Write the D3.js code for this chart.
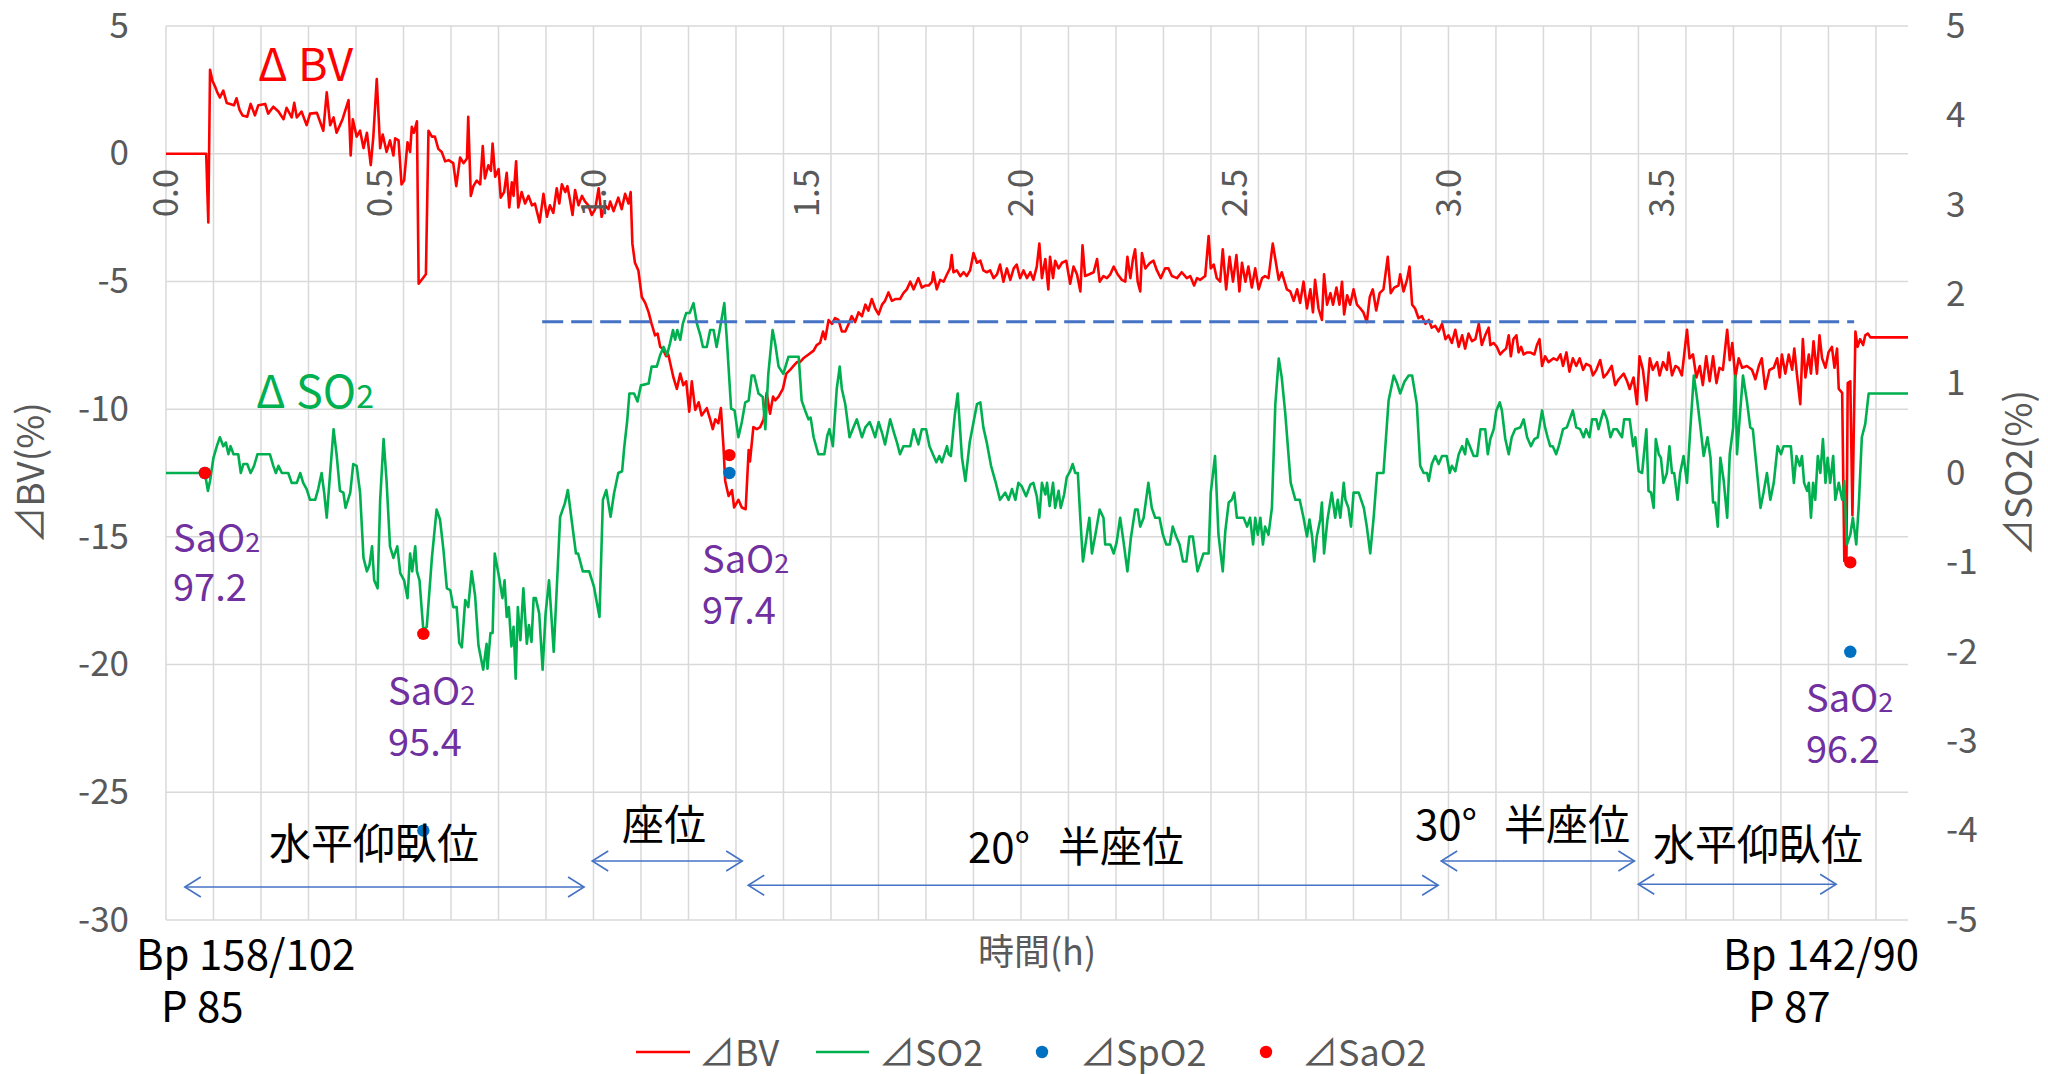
<!DOCTYPE html>
<html>
<head>
<meta charset="utf-8">
<script src="https://cdn.jsdelivr.net/npm/d3@7"></script>
<style>
  body { margin: 0; background: #fff; }
  svg { display: block; font-family: "Noto Sans CJK JP", "Noto Sans", sans-serif; }
</style>
</head>
<body>
<svg width="2048" height="1074"></svg>
<script>
// ΔBV (%), left axis : [time h, value]
var bvSeries = [
  [0,0],[0.094,0],[0.099,-2.69],[0.103,3.29],[0.109,2.84],[0.115,2.62],[0.120,2.40],[0.126,2.20],[0.134,2.47],[0.142,1.99],
  [0.150,1.95],[0.159,1.90],[0.165,2.17],[0.172,1.72],[0.179,1.50],[0.190,1.45],[0.198,1.95],[0.208,1.50],[0.216,1.90],[0.232,1.95],
  [0.239,1.57],[0.251,1.84],[0.263,1.65],[0.275,1.35],[0.282,1.80],[0.294,1.42],[0.300,1.99],[0.306,1.42],[0.317,1.65],[0.329,1.12],
  [0.337,1.57],[0.353,1.60],[0.360,1.27],[0.368,0.90],[0.376,2.40],[0.384,1.12],[0.392,1.42],[0.399,0.82],[0.407,1.12],[0.413,1.35],
  [0.427,2.10],[0.432,-0.07],[0.437,1.35],[0.446,0.67],[0.454,0.90],[0.462,0.22],[0.470,0.82],[0.479,-0.45],[0.485,0.67],[0.493,2.92],
  [0.501,0.22],[0.507,0.75],[0.516,0.07],[0.524,0.52],[0.532,-0.07],[0.536,0.60],[0.544,0.52],[0.551,-1.20],[0.557,-1.05],[0.565,0.45],
  [0.571,0.07],[0.575,1.05],[0.580,0.82],[0.587,1.27],[0.591,-5.09],[0.608,-4.72],[0.614,0.90],[0.622,0.67],[0.629,0.67],[0.637,0.19],
  [0.645,0.07],[0.653,-0.30],[0.661,-0.25],[0.672,-0.37],[0.679,-1.27],[0.688,-0.15],[0.696,-0.37],[0.704,-0.19],[0.707,1.45],[0.713,-1.65],
  [0.719,-1.27],[0.727,-1.05],[0.735,-1.20],[0.741,0.30],[0.746,-0.97],[0.754,-0.45],[0.760,-0.67],[0.764,0.40],[0.770,-0.90],[0.778,-0.60],
  [0.783,-1.72],[0.791,-1.50],[0.797,-0.75],[0.803,-2.10],[0.809,-1.12],[0.813,-1.65],[0.819,-0.30],[0.824,-2.10],[0.832,-1.50],[0.840,-1.95],
  [0.848,-1.65],[0.856,-2.02],[0.863,-1.95],[0.874,-2.69],[0.883,-1.57],[0.891,-2.47],[0.898,-2.02],[0.906,-2.32],[0.914,-1.35],[0.920,-1.95],
  [0.926,-1.20],[0.934,-1.50],[0.939,-1.27],[0.945,-1.80],[0.951,-2.40],[0.957,-1.42],[0.965,-2.02],[0.973,-1.65],[0.980,-1.87],[0.988,-2.02],
  [0.996,-2.40],[1.004,-2.17],[1.012,-1.35],[1.019,-2.47],[1.027,-2.02],[1.035,-2.17],[1.039,-1.87],[1.047,-2.25],[1.058,-1.72],[1.066,-2.17],
  [1.074,-1.57],[1.082,-1.95],[1.087,-1.50],[1.091,-3.52],[1.097,-4.27],[1.105,-4.57],[1.113,-5.61],[1.121,-5.84],[1.129,-6.21],[1.136,-6.66],
  [1.144,-7.11],[1.150,-7.04],[1.156,-7.56],[1.162,-7.63],[1.170,-7.93],[1.175,-7.86],[1.181,-8.31],[1.187,-8.76],[1.195,-9.21],[1.203,-8.61],
  [1.210,-9.06],[1.217,-8.91],[1.224,-10.10],[1.230,-8.91],[1.238,-10.03],[1.246,-9.73],[1.253,-10.25],[1.265,-9.96],[1.273,-10.40],[1.279,-10.78],
  [1.285,-10.40],[1.292,-10.55],[1.298,-9.96],[1.304,-11.45],[1.308,-12.80],[1.316,-13.40],[1.324,-13.17],[1.329,-13.85],[1.339,-13.55],[1.347,-13.85],
  [1.356,-13.92],[1.363,-11.60],[1.366,-12.05],[1.374,-10.70],[1.382,-10.78],[1.390,-10.70],[1.398,-10.40],[1.405,-9.36],[1.413,-10.18],[1.420,-9.51],
  [1.425,-9.66],[1.433,-9.51],[1.443,-9.21],[1.451,-8.61],[1.460,-8.46],[1.468,-8.31],[1.476,-8.16],[1.483,-8.16],[1.491,-8.01],[1.503,-7.86],
  [1.515,-7.71],[1.522,-7.49],[1.530,-7.41],[1.537,-6.96],[1.542,-7.26],[1.550,-6.51],[1.558,-6.66],[1.565,-6.44],[1.573,-6.51],[1.581,-6.96],
  [1.589,-6.96],[1.597,-6.66],[1.604,-6.36],[1.612,-6.59],[1.620,-6.21],[1.628,-6.36],[1.636,-5.91],[1.643,-6.14],[1.651,-5.69],[1.659,-6.06],
  [1.667,-6.29],[1.675,-5.91],[1.682,-5.76],[1.690,-5.43],[1.698,-5.76],[1.706,-5.69],[1.717,-5.69],[1.725,-5.46],[1.733,-5.31],[1.741,-5.01],
  [1.749,-5.31],[1.760,-4.87],[1.768,-5.24],[1.776,-5.16],[1.784,-5.16],[1.792,-5.01],[1.795,-4.64],[1.803,-5.31],[1.811,-4.94],[1.819,-5.01],
  [1.827,-4.72],[1.834,-4.49],[1.838,-3.97],[1.842,-4.64],[1.850,-4.57],[1.858,-4.79],[1.866,-4.64],[1.873,-4.79],[1.881,-4.57],[1.889,-3.89],
  [1.897,-4.27],[1.905,-4.19],[1.912,-4.57],[1.920,-4.64],[1.928,-4.57],[1.936,-4.87],[1.944,-4.72],[1.951,-4.34],[1.959,-5.01],[1.967,-4.49],
  [1.975,-4.94],[1.983,-4.49],[1.990,-4.34],[1.998,-4.87],[2.006,-4.57],[2.014,-4.87],[2.022,-4.64],[2.029,-4.94],[2.037,-4.42],[2.043,-3.52],
  [2.049,-4.87],[2.057,-4.12],[2.064,-5.31],[2.068,-4.04],[2.075,-4.87],[2.080,-4.19],[2.088,-4.49],[2.096,-4.27],[2.106,-4.19],[2.115,-5.09],
  [2.123,-4.42],[2.131,-4.72],[2.139,-5.39],[2.144,-3.59],[2.150,-4.79],[2.160,-4.72],[2.170,-4.64],[2.178,-4.12],[2.184,-5.01],[2.193,-4.79],
  [2.201,-4.87],[2.209,-4.72],[2.217,-4.42],[2.226,-4.72],[2.236,-4.94],[2.244,-5.01],[2.249,-4.04],[2.256,-4.87],[2.262,-4.12],[2.267,-3.74],
  [2.273,-5.01],[2.279,-5.39],[2.283,-3.89],[2.291,-4.49],[2.302,-4.27],[2.310,-4.19],[2.318,-4.57],[2.327,-4.87],[2.337,-4.49],[2.345,-4.49],
  [2.353,-4.79],[2.365,-4.87],[2.376,-4.64],[2.388,-4.87],[2.396,-4.79],[2.405,-5.16],[2.412,-4.87],[2.419,-4.94],[2.431,-4.79],[2.439,-3.22],
  [2.444,-4.49],[2.451,-4.34],[2.458,-4.87],[2.466,-5.01],[2.472,-3.74],[2.480,-5.31],[2.488,-4.04],[2.496,-5.01],[2.504,-3.97],[2.511,-5.39],
  [2.517,-4.27],[2.525,-5.01],[2.532,-4.42],[2.540,-5.24],[2.548,-4.49],[2.556,-5.31],[2.564,-4.87],[2.571,-4.79],[2.579,-4.87],[2.589,-3.52],
  [2.595,-4.12],[2.603,-4.94],[2.610,-4.64],[2.622,-5.31],[2.630,-5.39],[2.638,-5.76],[2.646,-5.31],[2.653,-5.84],[2.661,-5.01],[2.669,-6.06],
  [2.677,-5.31],[2.683,-6.21],[2.688,-4.94],[2.696,-6.06],[2.704,-6.51],[2.709,-4.72],[2.716,-5.91],[2.724,-5.46],[2.730,-5.91],[2.738,-5.24],
  [2.745,-5.91],[2.751,-5.01],[2.756,-6.29],[2.763,-5.54],[2.770,-5.91],[2.778,-5.31],[2.786,-5.91],[2.794,-6.06],[2.801,-6.21],[2.809,-6.59],
  [2.816,-5.61],[2.823,-5.31],[2.831,-6.14],[2.839,-5.46],[2.848,-5.31],[2.858,-4.04],[2.865,-5.46],[2.873,-5.24],[2.883,-5.16],[2.887,-4.72],
  [2.895,-5.39],[2.903,-4.94],[2.909,-4.42],[2.915,-5.91],[2.922,-6.06],[2.930,-6.44],[2.938,-6.36],[2.946,-6.66],[2.954,-6.51],[2.961,-6.81],
  [2.969,-6.74],[2.977,-6.96],[2.985,-6.66],[2.993,-7.26],[3.000,-7.11],[3.008,-7.41],[3.016,-6.89],[3.024,-7.56],[3.032,-7.11],[3.039,-7.63],
  [3.047,-7.04],[3.055,-7.34],[3.063,-7.26],[3.071,-6.66],[3.078,-7.49],[3.086,-7.11],[3.094,-6.81],[3.098,-7.49],[3.106,-7.41],[3.113,-7.56],
  [3.121,-7.86],[3.129,-7.71],[3.135,-7.63],[3.141,-7.11],[3.146,-7.93],[3.152,-7.26],[3.159,-7.11],[3.164,-7.78],[3.170,-7.56],[3.176,-7.86],
  [3.184,-7.78],[3.191,-7.78],[3.201,-7.86],[3.207,-7.49],[3.213,-7.26],[3.219,-8.31],[3.226,-7.93],[3.234,-8.16],[3.246,-8.01],[3.254,-8.08],
  [3.262,-7.86],[3.268,-8.31],[3.276,-7.78],[3.283,-8.53],[3.291,-8.01],[3.299,-8.31],[3.307,-8.01],[3.315,-8.46],[3.322,-8.23],[3.332,-8.31],
  [3.338,-8.68],[3.346,-8.46],[3.355,-8.08],[3.363,-8.76],[3.371,-8.61],[3.382,-8.31],[3.390,-9.06],[3.398,-8.83],[3.410,-8.61],[3.418,-8.91],
  [3.424,-9.21],[3.433,-8.76],[3.441,-9.81],[3.447,-7.93],[3.455,-8.46],[3.463,-9.66],[3.471,-8.01],[3.478,-8.46],[3.488,-8.16],[3.494,-8.68],
  [3.502,-8.16],[3.511,-8.46],[3.515,-7.78],[3.523,-8.68],[3.531,-8.31],[3.538,-8.38],[3.546,-8.68],[3.558,-6.89],[3.564,-8.01],[3.572,-7.86],
  [3.580,-8.76],[3.588,-8.31],[3.595,-9.06],[3.603,-7.93],[3.611,-8.91],[3.619,-7.93],[3.627,-8.98],[3.634,-8.38],[3.642,-8.46],[3.652,-6.89],
  [3.658,-8.08],[3.664,-7.41],[3.671,-8.76],[3.679,-8.01],[3.687,-8.38],[3.698,-8.31],[3.710,-8.46],[3.718,-8.83],[3.726,-8.31],[3.733,-8.01],
  [3.741,-9.21],[3.751,-8.46],[3.761,-8.38],[3.769,-8.01],[3.775,-8.76],[3.780,-7.86],[3.788,-8.61],[3.796,-7.86],[3.804,-8.46],[3.809,-7.63],
  [3.815,-8.61],[3.823,-9.81],[3.829,-7.26],[3.835,-8.76],[3.843,-7.86],[3.848,-8.61],[3.854,-7.34],[3.862,-8.61],[3.868,-7.11],[3.874,-8.01],
  [3.882,-8.38],[3.889,-7.78],[3.897,-7.56],[3.903,-8.38],[3.909,-7.63],[3.913,-9.21],[3.921,-9.36],[3.926,-15.94],[3.931,-15.94],[3.934,-8.98],
  [3.940,-8.91],[3.945,-14.15],[3.952,-6.96],[3.957,-7.56],[3.963,-7.26],[3.970,-7.49],[3.975,-7.11],[3.981,-7.04],[3.987,-7.19],[4.075,-7.19]
];

// ΔSO2 (%), right axis : [time h, value]
var so2Series = [
  [0,0],[0.091,0],[0.098,-0.20],[0.103,-0.09],[0.111,0.17],[0.119,0.30],[0.126,0.40],[0.134,0.30],[0.140,0.34],[0.146,0.21],
  [0.151,0.30],[0.158,0.21],[0.169,0.21],[0.175,0.0],[0.181,0.10],[0.190,0.10],[0.198,0.0],[0.206,0.08],[0.214,0.21],[0.243,0.21],
  [0.251,0.08],[0.257,0.0],[0.263,0.08],[0.271,0.0],[0.286,0.0],[0.294,-0.11],[0.306,-0.11],[0.314,0.0],[0.321,-0.11],[0.329,-0.18],
  [0.337,-0.30],[0.349,-0.30],[0.356,-0.18],[0.364,0.0],[0.370,-0.22],[0.376,-0.50],[0.384,0.0],[0.392,0.49],[0.399,0.21],[0.407,-0.20],
  [0.415,-0.22],[0.420,-0.39],[0.431,-0.22],[0.438,0.10],[0.446,0.08],[0.454,-0.22],[0.462,-0.95],[0.470,-1.10],[0.476,-1.03],[0.482,-0.82],
  [0.487,-1.20],[0.495,-1.29],[0.501,-0.30],[0.509,0.38],[0.516,-0.09],[0.524,-0.82],[0.532,-0.95],[0.541,-0.82],[0.548,-1.12],[0.557,-1.20],
  [0.565,-1.40],[0.571,-0.90],[0.576,-1.10],[0.583,-0.82],[0.587,-1.10],[0.593,-1.20],[0.602,-1.76],[0.610,-1.72],[0.622,-0.95],[0.633,-0.41],
  [0.641,-0.52],[0.649,-0.86],[0.657,-1.29],[0.665,-1.31],[0.672,-1.50],[0.680,-1.50],[0.686,-1.90],[0.692,-1.95],[0.700,-1.42],[0.707,-1.50],
  [0.715,-1.10],[0.723,-1.37],[0.731,-1.93],[0.742,-2.20],[0.750,-1.91],[0.752,-2.19],[0.759,-1.79],[0.764,-1.79],[0.769,-0.90],[0.779,-1.16],
  [0.787,-1.40],[0.792,-1.20],[0.797,-1.61],[0.802,-1.50],[0.808,-1.94],[0.813,-1.72],[0.818,-2.30],[0.823,-1.50],[0.829,-1.87],[0.836,-1.29],
  [0.844,-1.91],[0.849,-1.70],[0.855,-1.89],[0.860,-1.40],[0.865,-1.40],[0.873,-1.57],[0.881,-2.20],[0.888,-1.57],[0.896,-1.20],[0.907,-2.00],
  [0.915,-1.20],[0.922,-0.49],[0.933,-0.34],[0.940,-0.19],[0.949,-0.53],[0.959,-0.90],[0.964,-0.90],[0.975,-1.10],[0.990,-1.10],[1.001,-1.27],
  [1.014,-1.61],[1.022,-0.30],[1.030,-0.19],[1.040,-0.49],[1.048,-0.23],[1.058,0.0],[1.067,0.02],[1.072,0.29],[1.079,0.59],[1.084,0.89],
  [1.095,0.89],[1.103,0.80],[1.111,0.98],[1.129,1.00],[1.136,1.19],[1.148,1.19],[1.156,1.32],[1.164,1.41],[1.172,1.32],[1.179,1.45],
  [1.186,1.60],[1.191,1.49],[1.196,1.60],[1.203,1.49],[1.209,1.67],[1.217,1.79],[1.225,1.79],[1.234,1.90],[1.242,1.67],[1.250,1.54],
  [1.256,1.41],[1.265,1.41],[1.273,1.60],[1.281,1.60],[1.288,1.41],[1.296,1.62],[1.306,1.90],[1.312,1.49],[1.322,0.72],[1.330,0.70],
  [1.339,0.40],[1.347,0.57],[1.355,0.79],[1.363,0.81],[1.370,1.09],[1.376,1.09],[1.386,0.89],[1.396,0.85],[1.402,0.49],[1.409,1.11],
  [1.419,1.60],[1.425,1.45],[1.433,1.19],[1.444,1.11],[1.456,1.30],[1.480,1.30],[1.487,0.81],[1.495,0.70],[1.503,0.60],[1.508,0.62],
  [1.515,0.40],[1.526,0.21],[1.540,0.21],[1.547,0.42],[1.552,0.49],[1.560,0.30],[1.569,0.94],[1.576,1.19],[1.581,0.94],[1.589,0.77],
  [1.599,0.40],[1.608,0.51],[1.616,0.60],[1.628,0.40],[1.636,0.51],[1.646,0.57],[1.651,0.51],[1.659,0.40],[1.667,0.57],[1.675,0.45],
  [1.682,0.32],[1.694,0.60],[1.703,0.45],[1.710,0.34],[1.717,0.21],[1.725,0.30],[1.741,0.30],[1.749,0.49],[1.760,0.32],[1.768,0.49],
  [1.778,0.49],[1.786,0.30],[1.794,0.21],[1.802,0.12],[1.809,0.19],[1.815,0.12],[1.827,0.30],[1.831,0.21],[1.836,0.19],[1.845,0.64],
  [1.852,0.89],[1.862,0.17],[1.870,-0.09],[1.880,0.34],[1.897,0.77],[1.905,0.79],[1.912,0.51],[1.920,0.34],[1.930,0.08],[1.940,-0.09],
  [1.951,-0.30],[1.963,-0.22],[1.971,-0.30],[1.979,-0.18],[1.987,-0.30],[1.994,-0.11],[2.002,-0.15],[2.012,-0.26],[2.022,-0.13],[2.029,-0.11],
  [2.037,-0.26],[2.043,-0.50],[2.049,-0.11],[2.057,-0.24],[2.061,-0.11],[2.067,-0.37],[2.075,-0.11],[2.080,-0.39],[2.088,-0.20],[2.093,-0.39],
  [2.101,-0.24],[2.107,-0.05],[2.115,0.02],[2.121,0.10],[2.127,0.0],[2.133,0.0],[2.139,-0.52],[2.145,-0.99],[2.153,-0.73],[2.160,-0.50],
  [2.166,-0.90],[2.174,-0.69],[2.184,-0.41],[2.193,-0.50],[2.197,-0.80],[2.209,-0.80],[2.217,-0.90],[2.224,-0.77],[2.232,-0.50],[2.240,-0.77],
  [2.249,-1.10],[2.257,-0.73],[2.267,-0.41],[2.273,-0.41],[2.279,-0.60],[2.287,-0.50],[2.298,-0.11],[2.306,-0.39],[2.314,-0.50],[2.324,-0.50],
  [2.332,-0.69],[2.340,-0.80],[2.348,-0.80],[2.355,-0.60],[2.363,-0.71],[2.371,-0.80],[2.379,-0.99],[2.387,-0.99],[2.394,-0.71],[2.402,-0.71],
  [2.413,-1.10],[2.427,-0.90],[2.439,-0.90],[2.444,-0.22],[2.454,0.19],[2.462,-0.69],[2.472,-1.10],[2.478,-0.65],[2.486,-0.33],[2.493,-0.30],
  [2.499,-0.22],[2.505,-0.50],[2.521,-0.50],[2.529,-0.60],[2.536,-0.50],[2.543,-0.80],[2.548,-0.50],[2.554,-0.69],[2.560,-0.50],[2.566,-0.80],
  [2.571,-0.60],[2.579,-0.69],[2.587,-0.39],[2.595,0.77],[2.603,1.28],[2.610,1.07],[2.618,0.68],[2.631,-0.11],[2.642,-0.30],[2.652,-0.30],
  [2.661,-0.50],[2.669,-0.71],[2.675,-0.52],[2.681,-0.71],[2.686,-0.99],[2.692,-0.71],[2.700,-0.52],[2.704,-0.33],[2.709,-0.90],[2.717,-0.52],
  [2.727,-0.22],[2.735,-0.50],[2.741,-0.30],[2.747,-0.50],[2.755,-0.11],[2.759,-0.30],[2.766,-0.39],[2.772,-0.60],[2.778,-0.22],[2.790,-0.22],
  [2.802,-0.39],[2.809,-0.60],[2.817,-0.90],[2.825,-0.50],[2.833,0.0],[2.848,0.0],[2.860,0.81],[2.872,1.09],[2.880,1.00],[2.887,0.89],
  [2.897,1.02],[2.907,1.09],[2.915,1.09],[2.926,0.77],[2.934,0.08],[2.942,0.0],[2.950,0.0],[2.954,-0.09],[2.961,0.10],[2.969,0.19],
  [2.977,0.10],[2.985,0.19],[2.996,0.19],[3.003,0.0],[3.008,0.08],[3.016,0.02],[3.024,0.21],[3.032,0.30],[3.039,0.21],[3.043,0.38],
  [3.050,0.30],[3.059,0.19],[3.067,0.19],[3.075,0.49],[3.086,0.49],[3.092,0.21],[3.098,0.38],[3.106,0.49],[3.112,0.70],[3.120,0.79],
  [3.125,0.70],[3.133,0.38],[3.141,0.21],[3.148,0.40],[3.156,0.49],[3.168,0.51],[3.176,0.60],[3.184,0.40],[3.193,0.30],[3.201,0.38],
  [3.209,0.40],[3.219,0.70],[3.226,0.51],[3.232,0.40],[3.238,0.30],[3.244,0.30],[3.252,0.21],[3.258,0.30],[3.268,0.49],[3.277,0.51],
  [3.285,0.62],[3.291,0.70],[3.299,0.51],[3.308,0.49],[3.316,0.40],[3.322,0.49],[3.330,0.40],[3.336,0.60],[3.346,0.60],[3.351,0.49],
  [3.357,0.60],[3.363,0.70],[3.371,0.60],[3.379,0.40],[3.386,0.49],[3.394,0.49],[3.406,0.40],[3.411,0.60],[3.424,0.60],[3.432,0.30],
  [3.437,0.40],[3.445,0.02],[3.453,0.0],[3.463,0.49],[3.468,-0.20],[3.474,-0.22],[3.480,-0.39],[3.485,0.38],[3.492,0.21],[3.497,0.17],
  [3.503,-0.11],[3.511,0.0],[3.517,0.30],[3.523,0.0],[3.528,0.0],[3.536,-0.30],[3.542,0.0],[3.550,0.19],[3.558,-0.11],[3.566,0.51],
  [3.574,1.09],[3.581,0.85],[3.589,0.53],[3.597,0.19],[3.606,0.40],[3.613,0.17],[3.619,-0.33],[3.624,-0.33],[3.630,-0.60],[3.636,0.17],
  [3.644,-0.09],[3.652,-0.50],[3.658,0.21],[3.666,0.51],[3.671,1.09],[3.675,0.21],[3.681,0.60],[3.689,1.09],[3.698,0.81],[3.706,0.51],
  [3.712,0.49],[3.720,0.10],[3.730,-0.39],[3.737,-0.22],[3.745,0.0],[3.753,-0.30],[3.761,-0.11],[3.770,0.30],[3.778,0.21],[3.784,0.30],
  [3.801,0.30],[3.808,-0.11],[3.814,0.19],[3.822,0.08],[3.827,0.19],[3.832,-0.11],[3.839,-0.20],[3.843,-0.11],[3.848,-0.50],[3.853,-0.11],
  [3.858,-0.30],[3.864,0.19],[3.870,0.0],[3.876,0.38],[3.882,-0.11],[3.887,0.17],[3.893,-0.11],[3.900,0.19],[3.905,-0.30],[3.913,-0.11],
  [3.921,-0.30],[3.926,-0.09],[3.932,-0.80],[3.940,-0.69],[3.946,-0.50],[3.954,-0.80],[3.960,-0.35],[3.967,0.40],[3.975,0.55],[3.983,0.89],
  [4.075,0.89]
];

// blood gas points (right axis)
var saO2Points = [[0.091, 0.0], [0.602, -1.8], [1.318, 0.2], [3.940, -1.0]];
var spO2Points = [[0.091, 0.0], [0.602, -4.0], [1.318, 0.0], [3.940, -2.0]];
var saO2Labels = ["97.2", "95.4", "97.4", "96.2"];

// axis ticks
var leftTicks = [5, 0, -5, -10, -15, -20, -25, -30];
var rightTicks = [5, 4, 3, 2, 1, 0, -1, -2, -3, -4, -5];
var timeLabels = [0, 0.5, 1.0, 1.5, 2.0, 2.5, 3.0, 3.5];
var gridCount = 36; // vertical gridlines every 1/9 h

// threshold line (left axis value) and posture ranges (time h, left axis y)
var refLine = { t0: 0.880, t1: 3.949, v: -6.58 };
var postureArrows = [
  { t0: 0.044, t1: 0.978, v: -28.71 },
  { t0: 0.997, t1: 1.348, v: -27.69 },
  { t0: 1.362, t1: 2.976, v: -28.64 },
  { t0: 2.983, t1: 3.435, v: -27.69 },
  { t0: 3.444, t1: 3.907, v: -28.60 }
];

var svg = d3.select("svg");
var fontJP = '"Noto Sans CJK JP", "Noto Sans", sans-serif';

var x = d3.scaleLinear().domain([0, 4.075]).range([166, 1908]);
var yL = d3.scaleLinear().domain([-30, 5]).range([920, 26]);
var yR = d3.scaleLinear().domain([-5, 5]).range([920, 26]);

// gridlines
var grid = svg.append("g").attr("stroke", "#d9d9d9").attr("stroke-width", 1.5);
grid.selectAll("line.v").data(d3.range(0, gridCount + 1)).enter().append("line")
  .attr("class", "v")
  .attr("x1", function (k) { return x(k / 9); })
  .attr("x2", function (k) { return x(k / 9); })
  .attr("y1", yL(5)).attr("y2", yL(-30));
grid.selectAll("line.h").data(leftTicks).enter().append("line")
  .attr("class", "h")
  .attr("x1", x(0)).attr("x2", x(4.075))
  .attr("y1", function (d) { return yL(d); })
  .attr("y2", function (d) { return yL(d); });

// left axis
svg.append("g").attr("transform", "translate(" + x(0) + ",0)")
  .call(d3.axisLeft(yL).tickValues(leftTicks).tickSize(0).tickPadding(37)
    .tickFormat(function (d) { return String(d); }))
  .call(function (g) { g.select(".domain").remove(); })
  .attr("font-size", 35).attr("font-family", fontJP).attr("color", "#595959");

// right axis
svg.append("g").attr("transform", "translate(" + x(4.075) + ",0)")
  .call(d3.axisRight(yR).tickValues(rightTicks).tickSize(0).tickPadding(38)
    .tickFormat(function (d) { return String(d); }))
  .call(function (g) { g.select(".domain").remove(); })
  .attr("font-size", 35).attr("font-family", fontJP).attr("color", "#595959");

// series lines
var bvLine = d3.line().x(function (d) { return x(d[0]); }).y(function (d) { return yL(d[1]); });
var so2Line = d3.line().x(function (d) { return x(d[0]); }).y(function (d) { return yR(d[1]); });

svg.append("path").datum(bvSeries)
  .attr("d", bvLine).attr("fill", "none")
  .attr("stroke", "#ff0000").attr("stroke-width", 2.6).attr("stroke-linejoin", "round");

svg.append("path").datum(so2Series)
  .attr("d", so2Line).attr("fill", "none")
  .attr("stroke", "#00b050").attr("stroke-width", 2.6).attr("stroke-linejoin", "round");

// dots
svg.selectAll("circle.sp").data(spO2Points).enter().append("circle")
  .attr("class", "sp")
  .attr("cx", function (d) { return x(d[0]); })
  .attr("cy", function (d) { return yR(d[1]); })
  .attr("r", 6.2).attr("fill", "#0070c0");
svg.selectAll("circle.sa").data(saO2Points).enter().append("circle")
  .attr("class", "sa")
  .attr("cx", function (d) { return x(d[0]); })
  .attr("cy", function (d) { return yR(d[1]); })
  .attr("r", 6.2).attr("fill", "#ff0000");

// dashed reference line
svg.append("line")
  .attr("x1", x(refLine.t0)).attr("x2", x(refLine.t1))
  .attr("y1", yL(refLine.v)).attr("y2", yL(refLine.v))
  .attr("stroke", "#4472c4").attr("stroke-width", 3).attr("stroke-dasharray", "21 8");

// x tick labels (rotated, on the zero line)
svg.append("g").selectAll("text").data(timeLabels).enter().append("text")
  .attr("transform", function (d) { return "translate(" + x(d) + "," + (yL(0) + 15) + ") rotate(-90)"; })
  .attr("text-anchor", "end").attr("dy", "0.35em")
  .attr("font-size", 35).attr("font-family", fontJP).attr("fill", "#595959")
  .text(function (d) { return d.toFixed(1); });

// posture arrows
var arrows = svg.append("g").attr("stroke", "#4472c4").attr("stroke-width", 1.6).attr("fill", "none");
postureArrows.forEach(function (a) {
  var x0 = x(a.t0), x1 = x(a.t1), yy = yL(a.v);
  arrows.append("line").attr("x1", x0).attr("x2", x1).attr("y1", yy).attr("y2", yy);
  arrows.append("path").attr("d", "M" + (x0 + 16) + "," + (yy - 10) + "L" + x0 + "," + yy + "L" + (x0 + 16) + "," + (yy + 10));
  arrows.append("path").attr("d", "M" + (x1 - 16) + "," + (yy - 10) + "L" + x1 + "," + yy + "L" + (x1 - 16) + "," + (yy + 10));
});

// posture labels
var postureText = [
  { s: "水平仰臥位", x: 269, y: 859 },
  { s: "座位", x: 622, y: 840 },
  { s: "20°", x: 968, y: 863 },
  { s: "半座位", x: 1058, y: 862 },
  { s: "30°", x: 1415, y: 840 },
  { s: "半座位", x: 1504, y: 840 },
  { s: "水平仰臥位", x: 1653, y: 860 }
];
svg.append("g").selectAll("text").data(postureText).enter().append("text")
  .attr("x", function (d) { return d.x; }).attr("y", function (d) { return d.y; })
  .attr("font-size", 42).attr("font-family", fontJP).attr("fill", "#000")
  .text(function (d) { return d.s; });

// series name labels
var bvName = svg.append("text").attr("x", 258).attr("y", 81)
  .attr("font-size", 45).attr("font-family", fontJP).attr("fill", "#ff0000");
bvName.append("tspan").text("Δ");
bvName.append("tspan").attr("x", 298).text("BV");

var so2Name = svg.append("text").attr("x", 256).attr("y", 408)
  .attr("font-size", 45).attr("font-family", fontJP).attr("fill", "#00b050");
so2Name.append("tspan").text("Δ");
so2Name.append("tspan").attr("x", 296).text("SO");
so2Name.append("tspan").attr("font-size", 32).text("2");

// SaO2 annotations
var saPos = [[173, 552, 601], [388, 705, 756], [702, 573, 624], [1806, 712, 763]];
saPos.forEach(function (p, i) {
  var t = svg.append("text").attr("x", p[0]).attr("y", p[1])
    .attr("font-size", 38).attr("font-family", fontJP).attr("fill", "#7030a0");
  t.append("tspan").text("SaO");
  t.append("tspan").attr("font-size", 27).text("2");
  svg.append("text").attr("x", p[0]).attr("y", p[2])
    .attr("font-size", 38).attr("font-family", fontJP).attr("fill", "#7030a0")
    .text(saO2Labels[i]);
});

// blood pressure / pulse notes
var bpNotes = [
  { s: "Bp 158/102", x: 136, y: 970 }, { s: "P 85", x: 161, y: 1022 },
  { s: "Bp 142/90", x: 1723, y: 970 }, { s: "P 87", x: 1748, y: 1022 }
];
svg.append("g").selectAll("text").data(bpNotes).enter().append("text")
  .attr("x", function (d) { return d.x; }).attr("y", function (d) { return d.y; })
  .attr("font-size", 42).attr("font-family", fontJP).attr("fill", "#000")
  .text(function (d) { return d.s; });

// axis titles
svg.append("text").attr("transform", "translate(31,473) rotate(-90)")
  .attr("text-anchor", "middle").attr("dy", "0.35em")
  .attr("font-size", 37).attr("font-family", fontJP).attr("fill", "#595959")
  .text("⊿BV(%)");
svg.append("text").attr("transform", "translate(2019,473) rotate(-90)")
  .attr("text-anchor", "middle").attr("dy", "0.35em")
  .attr("font-size", 37).attr("font-family", fontJP).attr("fill", "#595959")
  .text("⊿SO2(%)");
svg.append("text").attr("x", 1037).attr("y", 965)
  .attr("text-anchor", "middle")
  .attr("font-size", 36).attr("font-family", fontJP).attr("fill", "#595959")
  .text("時間(h)");

// legend
var legend = svg.append("g").attr("font-size", 36).attr("font-family", fontJP).attr("fill", "#595959");
legend.append("line").attr("x1", 636).attr("x2", 690).attr("y1", 1052).attr("y2", 1052)
  .attr("stroke", "#ff0000").attr("stroke-width", 2.6);
legend.append("text").attr("x", 699).attr("y", 1066).text("⊿BV");
legend.append("line").attr("x1", 816).attr("x2", 869).attr("y1", 1052).attr("y2", 1052)
  .attr("stroke", "#00b050").attr("stroke-width", 2.6);
legend.append("text").attr("x", 879).attr("y", 1066).text("⊿SO2");
legend.append("circle").attr("cx", 1042).attr("cy", 1052).attr("r", 6.2).attr("fill", "#0070c0");
legend.append("text").attr("x", 1080).attr("y", 1066).text("⊿SpO2");
legend.append("circle").attr("cx", 1266).attr("cy", 1052).attr("r", 6.2).attr("fill", "#ff0000");
legend.append("text").attr("x", 1302).attr("y", 1066).text("⊿SaO2");
</script>
</body>
</html>
